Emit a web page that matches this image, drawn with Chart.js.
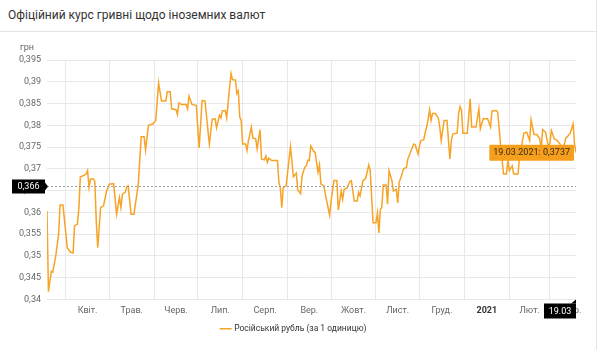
<!DOCTYPE html>
<html lang="uk">
<head>
<meta charset="utf-8">
<title>Офіційний курс гривні щодо іноземних валют</title>
<script src="https://cdn.jsdelivr.net/npm/chart.js@4.4.1/dist/chart.umd.min.js"></script>
<style>
  html, body { margin: 0; padding: 0; background: #fff; width: 603px; height: 350px; overflow: hidden;
    font-family: Roboto, "Open Sans", "Noto Sans", sans-serif; }
  #head { position: absolute; left: 0; top: 0; width: 596px; height: 31px;
    border-bottom: 1px solid #e4e4e4; border-right: 1px solid #e4e4e4; }
  #title { position: absolute; left: 8px; top: 8px; font-size: 12px; color: #333; white-space: nowrap; }
  #unit { position: absolute; left: 20px; top: 42px; font-size: 9px; color: #666; }
  #wrap { position: absolute; left: 0; top: 32px; width: 596px; height: 318px; border-right: 1px solid #e4e4e4; }
  canvas { display: block; }
</style>
</head>
<body>
<div id="head"><div id="title">Офіційний курс гривні щодо іноземних валют</div></div>
<div id="wrap"><canvas id="c" width="596" height="318"></canvas></div>
<div id="unit">грн</div>
<script>
// Series: RUB/UAH official rate (UAH per 1 RUB), days counted from 19.03.2020
const START_DATE = Date.UTC(2020, 2, 19);
const seriesName = 'Російський рубль (за 1 одиницю)';
const dayOffsets = [
  0, 1, 3, 4, 6, 8, 9, 11, 14, 16, 18, 19, 21, 22, 23, 25, 27, 28, 29, 30,
  32, 33, 34, 35, 37, 39, 41, 43, 46, 48, 50, 51, 52, 54, 55, 56, 58, 60, 62, 63,
  65, 67, 68, 70, 73, 75, 77, 79, 82, 83, 85, 86, 89, 90, 91, 93, 96, 97, 98, 100,
  103, 105, 107, 109, 112, 114, 116, 117, 119, 120, 121, 123, 124, 126, 127, 128, 130, 131, 132, 133,
  134, 135, 137, 138, 139, 141, 142, 144, 145, 147, 148, 150, 151, 152, 153, 155, 159, 160, 161, 162,
  163, 165, 168, 170, 172, 173, 175, 176, 178, 179, 180, 181, 182, 184, 185, 187, 188, 189, 191, 193,
  195, 196, 198, 200, 201, 203, 204, 205, 207, 209, 210, 212, 214, 215, 216, 218, 220, 222, 223, 225,
  227, 228, 229, 230, 231, 232, 234, 235, 236, 238, 239, 241, 242, 243, 245, 246, 248, 249, 251, 253,
  254, 256, 257, 258, 260, 261, 262, 263, 264, 265, 266, 268, 270, 271, 272, 274, 276, 277, 278, 279,
  280, 283, 284, 285, 286, 287, 290, 292, 293, 296, 298, 299, 301, 304, 306, 307, 310, 311, 313, 315,
  317, 318, 319, 321, 322, 325, 326, 329, 331, 333, 334, 336, 338, 340, 341, 342, 344, 346, 347, 348,
  350, 352, 354, 356, 358, 359, 361, 363, 364, 365
];
const rates = [
  0.3603, 0.3418, 0.3465, 0.3463, 0.3499, 0.3549, 0.3617, 0.3617, 0.3519, 0.3509, 0.3507, 0.3569, 0.3573, 0.3611, 0.3682, 0.3684, 0.3688, 0.3696, 0.3657, 0.3677,
  0.3677, 0.3671, 0.3580, 0.3519, 0.3611, 0.3615, 0.3648, 0.3665, 0.3666, 0.3596, 0.3634, 0.3611, 0.3642, 0.3646, 0.3659, 0.3661, 0.3596, 0.3596, 0.3642, 0.3665,
  0.3774, 0.3774, 0.3743, 0.3800, 0.3803, 0.3811, 0.3897, 0.3856, 0.3856, 0.3877, 0.3877, 0.3838, 0.3836, 0.3825, 0.3851, 0.3848, 0.3848, 0.3838, 0.3867, 0.3848,
  0.3846, 0.3748, 0.3857, 0.3856, 0.3757, 0.3814, 0.3815, 0.3794, 0.3823, 0.3817, 0.3833, 0.3834, 0.3817, 0.3888, 0.3919, 0.3905, 0.3904, 0.3873, 0.3879, 0.3819,
  0.3811, 0.3757, 0.3757, 0.3742, 0.3765, 0.3796, 0.3771, 0.3769, 0.3746, 0.3790, 0.3723, 0.3721, 0.3730, 0.3715, 0.3725, 0.3719, 0.3719, 0.3669, 0.3657, 0.3611,
  0.3657, 0.3661, 0.3751, 0.3682, 0.3690, 0.3652, 0.3643, 0.3684, 0.3705, 0.3707, 0.3720, 0.3719, 0.3753, 0.3740, 0.3738, 0.3692, 0.3709, 0.3665, 0.3661, 0.3626,
  0.3594, 0.3626, 0.3673, 0.3673, 0.3605, 0.3649, 0.3630, 0.3653, 0.3656, 0.3671, 0.3673, 0.3626, 0.3626, 0.3646, 0.3638, 0.3673, 0.3679, 0.3709, 0.3696, 0.3576,
  0.3576, 0.3599, 0.3553, 0.3607, 0.3611, 0.3663, 0.3663, 0.3619, 0.3696, 0.3673, 0.3649, 0.3653, 0.3622, 0.3669, 0.3688, 0.3700, 0.3703, 0.3723, 0.3740, 0.3757,
  0.3756, 0.3734, 0.3753, 0.3765, 0.3767, 0.3784, 0.3796, 0.3815, 0.3836, 0.3811, 0.3827, 0.3827, 0.3817, 0.3796, 0.3765, 0.3811, 0.3811, 0.3765, 0.3723, 0.3765,
  0.3780, 0.3782, 0.3827, 0.3843, 0.3834, 0.3782, 0.3782, 0.3861, 0.3796, 0.3796, 0.3838, 0.3792, 0.3815, 0.3815, 0.3796, 0.3833, 0.3834, 0.3830, 0.3753, 0.3688,
  0.3688, 0.3719, 0.3696, 0.3707, 0.3688, 0.3688, 0.3726, 0.3782, 0.3784, 0.3765, 0.3813, 0.3779, 0.3779, 0.3769, 0.3746, 0.3790, 0.3784, 0.3751, 0.3759, 0.3788,
  0.3769, 0.3765, 0.3757, 0.3743, 0.3771, 0.3774, 0.3782, 0.3803, 0.3757, 0.3737
];

// Month boundaries (days from start) and the month names shown between them
const monthStarts = [13, 43, 74, 104, 135, 166, 196, 227, 257, 288, 319, 347];
const monthLengths = [30, 31, 30, 31, 31, 30, 31, 30, 31, 31, 28, 31];
const monthLabels = ['Квіт.', 'Трав.', 'Черв.', 'Лип.', 'Серп.', 'Вер.', 'Жовт.', 'Лист.', 'Груд.', '2021', 'Лют.', 'Бер.'];
const yearLabel = '2021';

// Y axis range
const yMin = 0.34, yMax = 0.395, yStep = 0.005;
// Cursor reading shown on the y axis
const cursorRate = 0.366;

const LINE_COLOR = '#f7a326';
const FONT = 'Roboto, "Open Sans", sans-serif';
const fmtNum = v => String(Math.round(v * 10000) / 10000).replace('.', ',');
const pad2 = n => (n < 10 ? '0' : '') + n;
const dayToDate = d => new Date(START_DATE + d * 86400000);
const fmtDate = d => { const t = dayToDate(d); return pad2(t.getUTCDate()) + '.' + pad2(t.getUTCMonth() + 1) + '.' + t.getUTCFullYear(); };
const fmtShort = d => { const t = dayToDate(d); return pad2(t.getUTCDate()) + '.' + pad2(t.getUTCMonth() + 1); };

const points = dayOffsets.map((d, i) => ({ x: d, y: rates[i] }));
const lastDay = dayOffsets[dayOffsets.length - 1];

// Crosshair: dotted level line plus black value badges on both axes
const crosshair = {
  id: 'crosshair',
  afterDraw(chart) {
    const { ctx, chartArea: a, scales } = chart;
    const y = Math.round(scales.y.getPixelForValue(cursorRate)) + 0.5;
    ctx.save();
    ctx.strokeStyle = '#a0a0a0';
    ctx.lineWidth = 1;
    ctx.setLineDash([2, 2]);
    ctx.beginPath(); ctx.moveTo(a.left, y); ctx.lineTo(a.right, y); ctx.stroke();
    ctx.setLineDash([]);
    ctx.font = '9px ' + FONT;
    ctx.textBaseline = 'middle';
    ctx.textAlign = 'center';
    // y badge
    ctx.fillStyle = '#000';
    ctx.fillRect(12, y - 7, 33, 14);
    ctx.beginPath(); ctx.moveTo(45, y - 4); ctx.lineTo(48, y); ctx.lineTo(45, y + 4); ctx.closePath(); ctx.fill();
    ctx.fillStyle = '#fff';
    ctx.fillText(fmtNum(cursorRate), 28.5, y + 0.5);
    // x badge
    const x = scales.x.getPixelForValue(lastDay);
    const top = a.bottom + 4;
    ctx.fillStyle = '#000';
    ctx.fillRect(x - 32, top, 32, 15);
    ctx.beginPath(); ctx.moveTo(x - 5, top); ctx.lineTo(x, top - 4); ctx.lineTo(x, top); ctx.closePath(); ctx.fill();
    ctx.fillStyle = '#fff';
    ctx.fillText(fmtShort(lastDay), x - 16, top + 8);
    ctx.restore();
  }
};

const chart = new Chart(document.getElementById('c'), {
  type: 'line',
  data: {
    datasets: [{
      label: seriesName,
      data: points,
      borderColor: LINE_COLOR,
      backgroundColor: LINE_COLOR,
      borderWidth: 1.5,
      pointRadius: 0,
      pointHoverRadius: 0,
      tension: 0,
      fill: false
    }]
  },
  options: {
    responsive: false,
    animation: false,
    events: [],
    layout: { padding: { top: 28, right: 20, bottom: 7, left: 12 } },
    scales: {
      x: {
        type: 'linear',
        min: 0,
        max: lastDay,
        afterBuildTicks(scale) {
          const t = [];
          monthStarts.forEach((s, i) => {
            t.push({ value: s, boundary: true, text: '' });
            t.push({ value: s + monthLengths[i] / 2, boundary: false, text: monthLabels[i] });
          });
          scale.ticks = t;
        },
        afterFit(scale) { scale.height = 22; },
        grid: {
          drawTicks: false,
          color: c => (c.tick && c.tick.boundary ? '#e8e8e8' : 'rgba(0,0,0,0)'),
          lineWidth: 1
        },
        border: { display: false },
        ticks: {
          autoSkip: false,
          maxRotation: 0,
          minRotation: 0,
          padding: 6,
          color: c => (c.tick && c.tick.text === yearLabel ? '#333' : '#666'),
          font: c => ({ size: 9, weight: (c.tick && c.tick.text === yearLabel) ? 'bold' : 'normal', family: FONT }),
          callback: (v, i, ticks) => ticks[i].text
        }
      },
      y: {
        min: yMin,
        max: yMax,
        afterFit(scale) { scale.width = 35; },
        grid: { drawTicks: false, color: '#e8e8e8', lineWidth: 1 },
        border: { display: false },
        ticks: {
          stepSize: yStep,
          padding: 6,
          color: '#666',
          font: { size: 9, family: FONT },
          callback: v => String(Math.round(v * 1000) / 1000).replace('.', ',')
        }
      }
    },
    plugins: {
      legend: {
        position: 'bottom',
        labels: {
          usePointStyle: true,
          pointStyle: 'line',
          boxWidth: 9,
          padding: 3,
          color: '#333',
          font: { size: 8.5, family: FONT }
        }
      },
      tooltip: {
        enabled: true,
        backgroundColor: '#f59f1c',
        bodyColor: '#3a2a10',
        bodyFont: { size: 9, family: FONT },
        displayColors: false,
        cornerRadius: 1,
        caretSize: 0,
        caretPadding: 2,
        padding: { top: 2, bottom: 3, left: 4, right: 4 },
        xAlign: 'right',
        yAlign: 'center',
        callbacks: {
          title: () => '',
          label: c => fmtDate(c.raw.x) + ': ' + fmtNum(c.raw.y)
        }
      }
    }
  },
  plugins: [crosshair]
});

// Show the reading for the latest date
const lastIdx = points.length - 1;
const el = chart.getDatasetMeta(0).data[lastIdx];
chart.tooltip.setActiveElements([{ datasetIndex: 0, index: lastIdx }], { x: el.x, y: el.y });
chart.draw();
</script>
</body>
</html>
